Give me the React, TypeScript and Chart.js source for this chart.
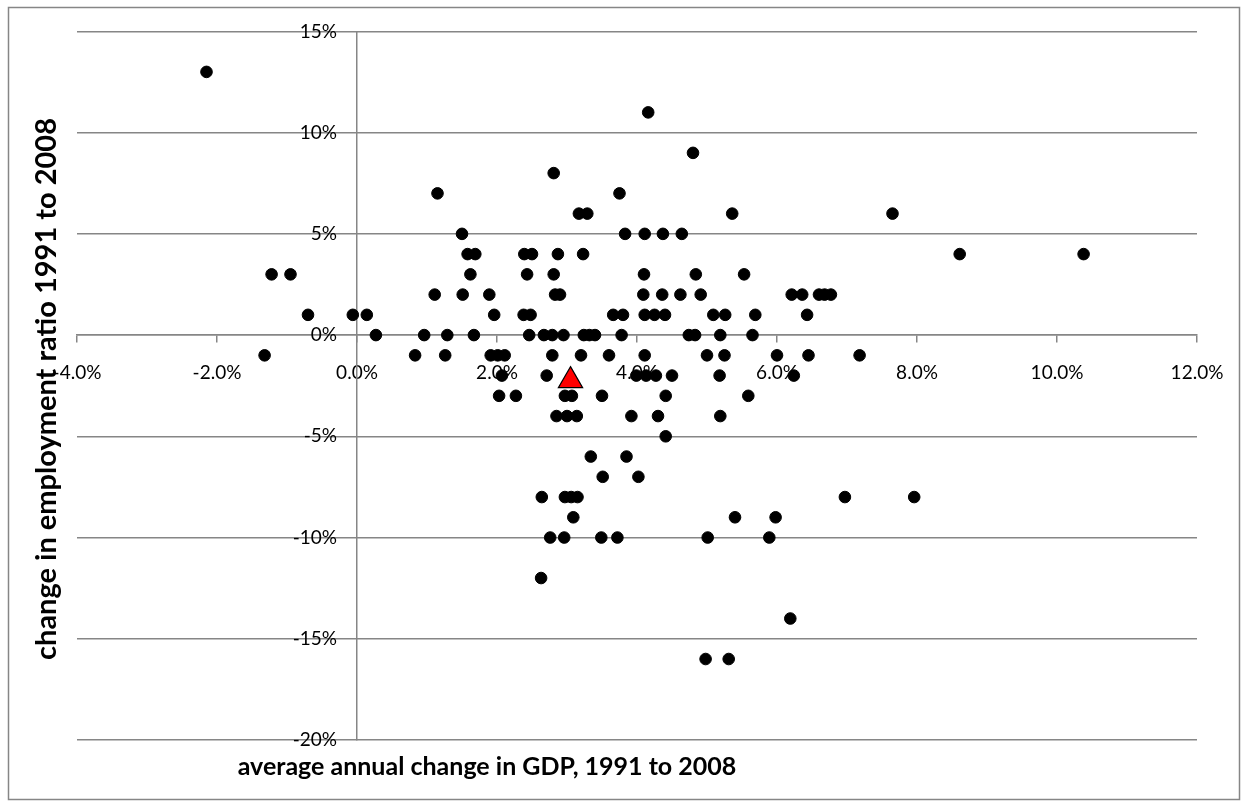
import React, { useEffect, useRef } from "react";
import { Chart, registerables } from "chart.js";

Chart.register(...registerables);

// x ticks / y ticks
const xTickValues = [-4, -2, 0, 2, 4, 6, 8, 10, 12];
const yTickValues = [-20, -15, -10, -5, 0, 5, 10, 15];

const xTitle = "average annual change in GDP, 1991 to 2008";
const yTitle = "change in employment ratio 1991 to 2008";

// average annual change in GDP (%) for each country
const gdpChange = [
  -2.15,
  4.16,
  4.8,
  2.81,
  1.15, 3.75,
  3.17, 3.29, 5.36, 7.65,
  1.5, 3.83, 4.11, 4.37, 4.64,
  1.58, 1.69, 2.39, 2.5, 2.87, 3.23, 8.61, 10.38,
  -1.22, -0.95, 1.62, 2.43, 2.81, 4.1, 4.84, 5.53,
  1.11, 1.51, 1.89, 2.83, 2.9, 4.09, 4.36, 4.62, 4.91, 6.21, 6.36, 6.6, 6.68, 6.77,
  -0.7, -0.06, 0.14, 1.96, 2.38, 2.48, 3.66, 3.8, 4.11, 4.25, 4.4, 5.09, 5.26, 5.69, 6.43,
  0.27, 0.96, 1.29, 1.67, 2.46, 2.67, 2.79, 2.95, 3.24, 3.32, 3.4, 3.78, 4.74, 4.83, 5.19, 5.65,
  -1.32, 0.83, 1.26, 1.91, 2.01, 2.11, 2.79, 3.2, 3.6, 4.11, 5.0, 5.25, 6.0, 6.45, 7.18,
  2.07, 2.71, 3.99, 4.13, 4.27, 4.5, 5.18, 6.24,
  2.03, 2.27, 2.97, 3.07, 3.5, 4.41, 5.59,
  2.85, 3.0, 3.14, 3.92, 4.3, 5.19,
  4.41,
  3.34, 3.85,
  3.51, 4.02,
  2.64, 2.97, 3.06, 3.15, 6.97, 7.96,
  3.09, 5.4, 5.98,
  2.76, 2.96, 3.49, 3.72, 5.01, 5.89,
  2.63,
  6.19,
  4.98, 5.31,
];

// change in employment ratio 1991 to 2008 (%) for each country
const employmentChange = [
  13,
  11,
  9,
  8,
  7, 7,
  6, 6, 6, 6,
  5, 5, 5, 5, 5,
  4, 4, 4, 4, 4, 4, 4, 4,
  3, 3, 3, 3, 3, 3, 3, 3,
  2, 2, 2, 2, 2, 2, 2, 2, 2, 2, 2, 2, 2, 2,
  1, 1, 1, 1, 1, 1, 1, 1, 1, 1, 1, 1, 1, 1, 1,
  0, 0, 0, 0, 0, 0, 0, 0, 0, 0, 0, 0, 0, 0, 0, 0,
  -1, -1, -1, -1, -1, -1, -1, -1, -1, -1, -1, -1, -1, -1, -1,
  -2, -2, -2, -2, -2, -2, -2, -2,
  -3, -3, -3, -3, -3, -3, -3,
  -4, -4, -4, -4, -4, -4,
  -5,
  -6, -6,
  -7, -7,
  -8, -8, -8, -8, -8, -8,
  -9, -9, -9,
  -10, -10, -10, -10, -10, -10,
  -12,
  -14,
  -16, -16,
];

// highlighted point (red triangle)
const highlightGdp = [3.05];
const highlightEmployment = [-2.25];

const FONT = "Lato, 'Open Sans', sans-serif";
const Y_LABEL_GAP = 20;

const decorPlugin = {
  id: "decor",
  beforeDraw(chart: any) {
    const ctx = chart.ctx;
    ctx.save();
    ctx.fillStyle = "#ffffff";
    ctx.fillRect(0, 0, chart.width, chart.height);
    ctx.strokeStyle = "#868686";
    ctx.lineWidth = 1.5;
    ctx.strokeRect(8.5, 7.5, 1231, 792);
    ctx.restore();
    // move the y tick labels to the left of the centred y axis
    const ys = chart.scales.y;
    if (ys && ys.getLabelItems && !ys.$shifted) {
      const items = ys.getLabelItems(chart.chartArea);
      items.forEach((it: any) => {
        const t = it.options.translation;
        it.options.translation = [t[0] - Y_LABEL_GAP, t[1]];
      });
      ys.$shifted = true;
    }
  },
  afterDraw(chart: any) {
    const ctx = chart.ctx;
    ctx.save();
    ctx.fillStyle = "#000000";
    ctx.textAlign = "center";
    ctx.textBaseline = "middle";
    ctx.font = `bold 25px ${FONT}`;
    ctx.fillText(xTitle, 487, 767);
    ctx.translate(47, 389);
    ctx.rotate(-Math.PI / 2);
    ctx.font = `bold 29px ${FONT}`;
    ctx.fillText(yTitle, 0, 0);
    ctx.restore();
  },
};

export default function App() {
  const canvasRef = useRef<HTMLCanvasElement | null>(null);

  useEffect(() => {
    if (!canvasRef.current) return;
    const points = gdpChange.map((g, i) => ({ x: g, y: employmentChange[i] }));
    const highlight = highlightGdp.map((g, i) => ({ x: g, y: highlightEmployment[i] }));
    const chart = new Chart(canvasRef.current, {
      type: "scatter",
      data: {
        datasets: [
          {
            label: "highlight",
            data: highlight,
            pointStyle: "triangle",
            pointRadius: 14,
            backgroundColor: "#ff0000",
            borderColor: "#000000",
            borderWidth: 1.2,
          },
          {
            label: "countries",
            data: points,
            pointStyle: "circle",
            pointRadius: 5.8,
            backgroundColor: "#000000",
            borderColor: "#000000",
            borderWidth: 1,
          },
        ],
      },
      options: {
        animation: false,
        responsive: false,
        devicePixelRatio: 1,
        layout: { padding: { left: 77, right: 50, top: 30, bottom: 66 } },
        plugins: {
          legend: { display: false },
          tooltip: { enabled: false },
          title: { display: false },
        },
        scales: {
          x: {
            type: "linear",
            position: { y: 0 } as any,
            min: -4,
            max: 12,
            afterBuildTicks: (scale: any) => {
              scale.ticks = xTickValues.map((v) => ({ value: v }));
            },
            ticks: {
              font: { family: FONT, size: 19 },
              color: "#000000",
              padding: 19,
              maxRotation: 0,
              callback: (v: any) => `${Number(v).toFixed(1)}%`,
            },
            grid: {
              drawOnChartArea: false,
              drawTicks: true,
              tickLength: 7,
              color: "#868686",
              lineWidth: 1.5,
            },
            border: { display: true, color: "#868686", width: 1.5 },
          },
          y: {
            type: "linear",
            position: { x: 0 } as any,
            min: -20,
            max: 15,
            afterBuildTicks: (scale: any) => {
              scale.ticks = yTickValues.map((v) => ({ value: v }));
            },
            ticks: {
              font: { family: FONT, size: 19 },
              color: "#000000",
              padding: 20,
              callback: (v: any) => `${v}%`,
            },
            grid: {
              drawOnChartArea: true,
              drawTicks: false,
              color: "#868686",
              lineWidth: 1.5,
            },
            border: { display: true, color: "#868686", width: 1.5 },
          },
        },
      },
      plugins: [decorPlugin],
    });
    return () => chart.destroy();
  }, []);

  return (
    <div style={{ position: "fixed", left: 0, top: 0, width: 1247, height: 806, background: "#fff" }}>
      <canvas ref={canvasRef} width={1247} height={806} style={{ display: "block" }} />
    </div>
  );
}
